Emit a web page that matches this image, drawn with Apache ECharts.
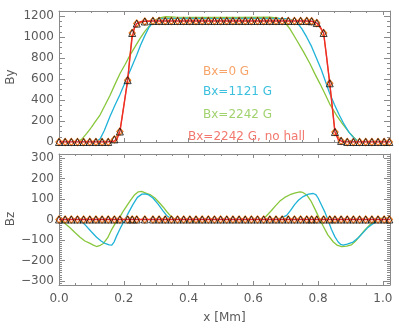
<!DOCTYPE html>
<html><head><meta charset="utf-8">
<script src="https://cdn.jsdelivr.net/npm/echarts@6/dist/echarts.min.js"></script>
<style>html,body{margin:0;padding:0;background:#fff}#c{width:399px;height:332px}</style>
</head><body><div id="c"></div>
<script>
// ---------- data ----------
const markerX = [0, 0.019, 0.038, 0.057, 0.076, 0.095, 0.114, 0.133, 0.152, 0.171, 0.188, 0.212, 0.226, 0.240, 0.265, 0.290, 0.309, 0.328, 0.347, 0.366, 0.385, 0.404, 0.423, 0.442, 0.461, 0.480, 0.499, 0.518, 0.537, 0.556, 0.575, 0.594, 0.613, 0.632, 0.651, 0.670, 0.689, 0.708, 0.727, 0.746, 0.765, 0.780, 0.796, 0.817, 0.836, 0.852, 0.871, 0.890, 0.909, 0.928, 0.947, 0.966, 0.985, 1.004, 1.020];
const markerBy = [0, 0, 0, 0, 0, 0, 0, 0, 0, 25, 100, 590, 1040, 1130, 1150, 1155, 1155, 1155, 1155, 1155, 1155, 1155, 1155, 1155, 1155, 1155, 1155, 1155, 1155, 1155, 1155, 1155, 1155, 1155, 1155, 1155, 1155, 1155, 1155, 1155, 1155, 1152, 1135, 1040, 560, 95, 10, 0, 0, 0, 0, 0, 0, 0, 0];
const markerBz = [0, 0, 0, 0, 0, 0, 0, 0, 0, 0, 0, 0, 0, 0, 0, 0, 0, 0, 0, 0, 0, 0, 0, 0, 0, 0, 0, 0, 0, 0, 0, 0, 0, 0, 0, 0, 0, 0, 0, 0, 0, 0, 0, 0, 0, 0, 0, 0, 0, 0, 0, 0, 0, 0, 0];

const redX  = [0, 0.150, 0.170, 0.180, 0.188, 0.200, 0.212, 0.220, 0.226, 0.233, 0.240, 0.252, 0.265, 0.290, 0.500, 0.760, 0.780, 0.796, 0.806, 0.817, 0.826, 0.836, 0.845, 0.852, 0.862, 0.875, 0.900, 1.022];
const redBy = [0, 0, 8, 35, 100, 340, 590, 840, 1000, 1090, 1130, 1148, 1152, 1155, 1155, 1155, 1152, 1135, 1100, 1040, 820, 560, 300, 95, 25, 3, 0, 0];
const redBzX = [0, 1.022];
const redBz  = [0, 0];

const cyanX  = [0, 0.115, 0.127, 0.140, 0.157, 0.172, 0.188, 0.200, 0.214, 0.227, 0.240, 0.252, 0.265, 0.278, 0.291, 0.305, 0.320, 0.400, 0.500, 0.600, 0.700, 0.720, 0.735, 0.750, 0.765, 0.780, 0.795, 0.810, 0.822, 0.835, 0.850, 0.865, 0.880, 0.895, 0.910, 0.920, 0.928, 1.022];
const cyanBy = [0, 0, 30, 110, 240, 345, 450, 540, 640, 735, 830, 925, 1015, 1095, 1145, 1170, 1178, 1180, 1178, 1180, 1176, 1165, 1140, 1080, 1000, 910, 800, 690, 585, 470, 360, 260, 170, 95, 40, 10, 0, 0];

const greenX  = [0, 0.055, 0.070, 0.085, 0.100, 0.111, 0.127, 0.142, 0.157, 0.172, 0.188, 0.204, 0.219, 0.235, 0.250, 0.265, 0.281, 0.296, 0.310, 0.330, 0.360, 0.450, 0.550, 0.650, 0.675, 0.692, 0.713, 0.734, 0.755, 0.775, 0.790, 0.806, 0.821, 0.836, 0.857, 0.877, 0.898, 0.910, 0.919, 0.926, 1.022];
const greenBy = [0, 0, 25, 80, 140, 190, 260, 350, 442, 545, 651, 740, 827, 910, 987, 1055, 1115, 1160, 1185, 1195, 1192, 1188, 1188, 1192, 1185, 1163, 1080, 971, 860, 747, 650, 555, 460, 362, 255, 165, 85, 45, 18, 0, 0];

const cyanBzX = [0, 0.030, 0.050, 0.065, 0.080, 0.100, 0.116, 0.130, 0.142, 0.155, 0.163, 0.170, 0.178, 0.190, 0.204, 0.215, 0.229, 0.242, 0.256, 0.266, 0.277, 0.290, 0.306, 0.320, 0.332, 0.345, 0.353, 0.370, 0.390, 0.420, 0.450, 0.550, 0.600, 0.630, 0.655, 0.672, 0.690, 0.703, 0.715, 0.728, 0.740, 0.754, 0.770, 0.785, 0.793, 0.800, 0.810, 0.821, 0.830, 0.841, 0.852, 0.862, 0.870, 0.877, 0.890, 0.908, 0.925, 0.939, 0.952, 0.965, 0.978, 0.991, 1.005, 1.022];
const cyanBz  = [0, 4, 2, -5, -25, -60, -87, -105, -117, -124, -125, -110, -80, -40, 0, 35, 75, 108, 124, 125, 120, 105, 75, 45, 20, 5, 0, -4, -6, -3, 0, 0, -3, -6, -4, 0, 10, 20, 45, 74, 95, 112, 124, 127, 122, 105, 72, 36, 0, -48, -85, -110, -122, -125, -120, -110, -88, -64, -42, -26, -12, 0, 3, 2];

const greenBzX = [0, 0.015, 0.034, 0.050, 0.065, 0.080, 0.096, 0.106, 0.116, 0.125, 0.137, 0.150, 0.163, 0.175, 0.188, 0.200, 0.219, 0.232, 0.245, 0.255, 0.270, 0.283, 0.296, 0.310, 0.322, 0.333, 0.343, 0.358, 0.375, 0.400, 0.430, 0.460, 0.500, 0.550, 0.590, 0.615, 0.630, 0.643, 0.656, 0.669, 0.682, 0.697, 0.713, 0.730, 0.744, 0.753, 0.765, 0.778, 0.790, 0.803, 0.816, 0.830, 0.847, 0.860, 0.873, 0.888, 0.903, 0.916, 0.929, 0.945, 0.960, 0.975, 0.991, 1.005, 1.022];
const greenBz  = [0, -15, -40, -65, -87, -105, -117, -125, -132, -128, -117, -90, -48, -15, 13, 45, 90, 118, 135, 137, 128, 120, 105, 82, 60, 38, 20, 0, -6, -8, -8, -5, -3, -4, -5, -3, 0, 22, 44, 68, 90, 108, 121, 130, 135, 132, 120, 90, 52, 8, -33, -75, -110, -127, -133, -130, -124, -105, -80, -50, -26, -8, 5, 7, 6];

const xTickLabels  = [0, 0.2, 0.4, 0.6, 0.8, 1.0];
const byTickLabels = [0, 200, 400, 600, 800, 1000, 1200];
const bzTickLabels = [-300, -200, -100, 0, 100, 200, 300];
const legendTexts = ['Bx=0 G', 'Bx=1121 G', 'Bx=2242 G', 'Bx=2242 G, no hall'];
const axisTitles = ['By', 'Bz', 'x [Mm]'];

// ---------- style ----------
const X_MIN = 0, X_MAX = 1.022;
const BY_MIN = 0, BY_MAX = 1250;
const BZ_MIN = -320, BZ_MAX = 320;
const AX = '#8a8a8a', TXT = '#5a5a5a', FONT = 'DejaVu Sans';
const ORANGE = '#f07a22', CYAN = '#1fb2d8', GREEN = '#88c63c', RED = '#ee2a2a';
const LEG = ['#f7a469', '#3cc0de', '#a2d26e', '#f2786e'];

function range(a, b, s) { const r = []; for (let v = a; v <= b + 1e-9; v += s) r.push(+v.toFixed(4)); return r; }
const zip = (xs, ys) => xs.map((x, i) => [x, ys[i]]);
const fmtMinus = v => (v < 0 ? '\u2212' + Math.abs(v) : String(v));

function xAxes(g, labels) {
  const minor = range(0, 1.0, 0.05);
  const base = (pos, ticks, len, line, lab) => ({
    type: 'value', gridIndex: g, position: pos, min: X_MIN, max: X_MAX,
    splitLine: { show: false },
    axisLine: { show: line, onZero: false, lineStyle: { color: AX, width: 1 } },
    axisTick: { show: true, inside: true, length: len, customValues: ticks, lineStyle: { color: AX, width: 1 } },
    axisLabel: lab ? { show: true, customValues: xTickLabels, formatter: v => v.toFixed(1), color: TXT, fontSize: 12, fontFamily: FONT, margin: 8 } : { show: false },
    name: lab ? axisTitles[2] : '', nameLocation: 'middle', nameGap: 27,
    nameTextStyle: { color: TXT, fontSize: 12, fontFamily: FONT }
  });
  return [
    base('bottom', xTickLabels, 4, true, labels),
    base('bottom', minor, 2, false, false),
    base('top', xTickLabels, 4, true, false),
    base('top', minor, 2, false, false)
  ];
}
function yAxes(g, mn, mx, major, minor) {
  const base = (pos, ticks, len, line, lab) => ({
    type: 'value', gridIndex: g, position: pos, min: mn, max: mx,
    splitLine: { show: false },
    axisLine: { show: line, onZero: false, lineStyle: { color: AX, width: 1 } },
    axisTick: { show: true, inside: true, length: len, customValues: ticks, lineStyle: { color: AX, width: 1 } },
    axisLabel: lab ? { show: true, customValues: major, formatter: fmtMinus, color: TXT, fontSize: 12, fontFamily: FONT, margin: 5 } : { show: false }
  });
  return [
    base('left', major, 6, true, true),
    base('left', minor, 3, false, false),
    base('right', major, 6, true, false),
    base('right', minor, 3, false, false)
  ];
}

const chart = echarts.init(document.getElementById('c'), null, { renderer: 'canvas' });

function panelSeries(xi, yi, sets) {
  return [
    { type: 'line', xAxisIndex: xi, yAxisIndex: yi, data: sets.green, showSymbol: false, lineStyle: { color: GREEN, width: 1.3 }, z: 2 },
    { type: 'line', xAxisIndex: xi, yAxisIndex: yi, data: sets.cyan, showSymbol: false, lineStyle: { color: CYAN, width: 1.3 }, z: 3 },
    { type: 'line', xAxisIndex: xi, yAxisIndex: yi, data: sets.orange, symbol: 'diamond', symbolSize: [6, 7], showSymbol: true,
      itemStyle: { color: '#ffffff', borderColor: ORANGE, borderWidth: 1.3 }, lineStyle: { color: ORANGE, width: 1.2 }, z: 4 },
    { type: 'line', xAxisIndex: xi, yAxisIndex: yi, data: sets.red, showSymbol: false, lineStyle: { color: RED, width: 1.4 }, z: 5 },
    { type: 'scatter', xAxisIndex: xi, yAxisIndex: yi, data: sets.tri, symbol: 'triangle', symbolSize: [7, 7],
      itemStyle: { color: 'rgba(0,0,0,0)', borderColor: '#111', borderWidth: 1 }, z: 6 }
  ];
}

const textFont = '12px "DejaVu Sans"';
const option = {
  animation: false,
  backgroundColor: '#ffffff',
  grid: [
    { left: 59, right: 9, top: 11, height: 131, containLabel: false, outerBoundsMode: 'none' },
    { left: 59, right: 9, top: 154, height: 131, containLabel: false, outerBoundsMode: 'none' }
  ],
  xAxis: [...xAxes(0, false), ...xAxes(1, true)],
  yAxis: [
    ...yAxes(0, BY_MIN, BY_MAX, byTickLabels, range(0, 1250, 50)),
    ...yAxes(1, BZ_MIN, BZ_MAX, bzTickLabels, range(-320, 320, 10))
  ],
  series: [
    ...panelSeries(0, 0, {
      green: zip(greenX, greenBy), cyan: zip(cyanX, cyanBy),
      orange: zip(markerX, markerBy), red: zip(redX, redBy), tri: zip(markerX, markerBy)
    }),
    ...panelSeries(4, 4, {
      green: zip(greenBzX, greenBz), cyan: zip(cyanBzX, cyanBz),
      orange: zip(markerX, markerBz), red: zip(redBzX, redBz), tri: zip(markerX, markerBz)
    })
  ],
  graphic: [
    { type: 'text', x: 11, y: 77, rotation: Math.PI / 2, z: 100, style: { text: axisTitles[0], fill: TXT, font: textFont, align: 'center', verticalAlign: 'middle' } },
    { type: 'text', x: 11, y: 219, rotation: Math.PI / 2, z: 100, style: { text: axisTitles[1], fill: TXT, font: textFont, align: 'center', verticalAlign: 'middle' } },
    { type: 'text', left: 203, top: 66, z: 100, style: { text: legendTexts[0], fill: LEG[0], font: textFont } },
    { type: 'text', left: 203, top: 86, z: 100, style: { text: legendTexts[1], fill: LEG[1], font: textFont } },
    { type: 'text', left: 203, top: 109, z: 100, style: { text: legendTexts[2], fill: LEG[2], font: textFont } },
    { type: 'text', left: 188, top: 131, z: 100, style: { text: legendTexts[3], fill: LEG[3], font: textFont } }
  ]
};
chart.setOption(option);
</script>
</body></html>
